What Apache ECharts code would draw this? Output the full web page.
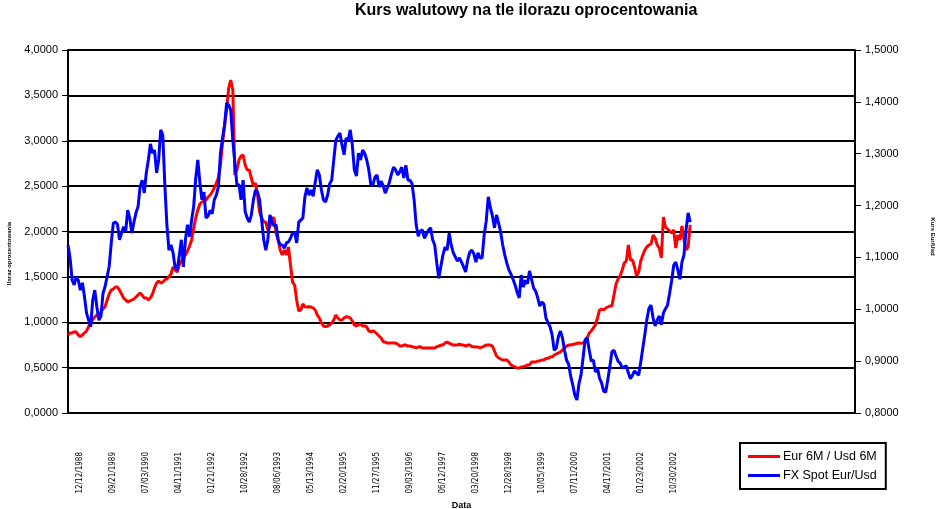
<!DOCTYPE html>
<html>
<head>
<meta charset="utf-8">
<script src="https://cdn.jsdelivr.net/npm/echarts@6/dist/echarts.min.js"></script>
<style>html,body{margin:0;padding:0;background:#fff}#c{width:942px;height:509px}</style>
</head>
<body>
<div id="c"></div>
<script>
// Tick labels shown on the category axis (every 16th slot, starting at slot 6)
const tickLabels = ["12/12/1988","09/21/1989","07/03/1990","04/11/1991","01/21/1992","10/28/1992","08/06/1993","05/13/1994","02/20/1995","11/27/1995","09/03/1996","06/12/1997","03/20/1998","12/28/1998","10/05/1999","07/11/2000","04/17/2001","01/23/2002","10/30/2002"];
const slotCount = 383;      // category slots across the axis
const firstLabelSlot = 6;
const labelEvery = 16;

// Eur 6M / Usd 6M interest ratio (left axis)
const ratioValues = [
0.859,0.882,0.882,0.896,0.893,0.859,0.841,0.859,0.882,0.904,0.951,1.003,1.025,1.058,1.080,1.091,1.113,1.146,1.171,1.245,
1.311,1.355,1.366,1.388,1.388,1.355,1.311,1.267,1.245,1.226,1.234,1.245,1.256,1.278,1.300,1.322,1.300,1.267,1.267,1.245,
1.267,1.311,1.377,1.432,1.455,1.432,1.443,1.466,1.477,1.499,1.532,1.609,1.576,1.554,1.631,1.675,1.708,1.741,1.785,1.840,
1.906,2.039,2.149,2.237,2.303,2.325,2.336,2.347,2.380,2.402,2.435,2.479,2.534,2.589,2.733,2.975,3.174,3.339,3.581,3.669,
3.559,2.623,2.678,2.788,2.832,2.843,2.733,2.678,2.678,2.589,2.501,2.534,2.402,2.215,2.149,2.105,2.105,2.017,2.050,2.149,
2.149,1.983,1.906,1.796,1.741,1.796,1.741,1.829,1.631,1.443,1.410,1.245,1.124,1.135,1.201,1.171,1.168,1.171,1.168,1.157,
1.135,1.080,1.047,0.992,0.959,0.951,0.959,0.970,0.992,1.025,1.080,1.047,1.025,1.025,1.047,1.061,1.058,1.047,1.014,0.970,
0.959,0.970,0.981,0.959,0.959,0.948,0.904,0.893,0.904,0.893,0.871,0.848,0.826,0.786,0.782,0.771,0.771,0.771,0.771,0.771,
0.760,0.738,0.738,0.749,0.749,0.738,0.738,0.731,0.727,0.716,0.727,0.731,0.716,0.716,0.716,0.716,0.716,0.716,0.716,0.731,
0.738,0.749,0.749,0.771,0.782,0.771,0.760,0.749,0.749,0.749,0.760,0.749,0.749,0.738,0.749,0.749,0.731,0.731,0.727,0.727,
0.716,0.727,0.738,0.749,0.749,0.749,0.738,0.683,0.628,0.606,0.595,0.584,0.584,0.584,0.562,0.529,0.518,0.507,0.496,0.496,
0.507,0.510,0.518,0.529,0.529,0.562,0.562,0.562,0.573,0.573,0.584,0.584,0.601,0.603,0.617,0.617,0.639,0.650,0.661,0.672,
0.694,0.716,0.738,0.749,0.749,0.755,0.760,0.768,0.771,0.768,0.771,0.793,0.826,0.882,0.904,0.937,0.970,1.047,1.135,1.146,
1.135,1.157,1.168,1.179,1.179,1.300,1.421,1.477,1.510,1.576,1.653,1.675,1.851,1.686,1.686,1.609,1.510,1.554,1.675,1.741,
1.796,1.832,1.851,1.862,1.961,1.928,1.851,1.818,1.708,2.160,2.050,2.028,2.005,1.983,2.017,1.818,1.961,1.906,2.061,1.906,
1.796,1.829,2.072
];

// FX Spot Eur/Usd (right axis)
const fxValues = [
1.124,1.099,1.056,1.047,1.063,1.056,1.037,1.051,1.024,0.993,0.979,0.966,1.018,1.037,1.005,0.979,0.987,1.031,1.044,1.063,
1.083,1.128,1.166,1.168,1.164,1.134,1.147,1.159,1.151,1.191,1.176,1.147,1.168,1.186,1.198,1.236,1.249,1.224,1.263,1.288,
1.319,1.301,1.307,1.263,1.288,1.346,1.336,1.240,1.163,1.114,1.124,1.109,1.080,1.076,1.103,1.134,1.082,1.134,1.163,1.140,
1.172,1.198,1.253,1.288,1.245,1.211,1.226,1.176,1.180,1.191,1.184,1.211,1.220,1.236,1.301,1.330,1.355,1.398,1.394,1.384,
1.326,1.282,1.240,1.240,1.211,1.249,1.188,1.176,1.168,1.182,1.211,1.230,1.226,1.211,1.172,1.134,1.114,1.134,1.182,1.168,
1.161,1.163,1.134,1.124,1.124,1.118,1.128,1.130,1.137,1.147,1.149,1.128,1.168,1.172,1.176,1.217,1.234,1.220,1.230,1.218,
1.245,1.269,1.259,1.230,1.211,1.207,1.220,1.242,1.249,1.288,1.326,1.334,1.340,1.317,1.298,1.330,1.326,1.346,1.317,1.269,
1.257,1.301,1.288,1.307,1.301,1.288,1.269,1.240,1.240,1.255,1.259,1.236,1.247,1.238,1.224,1.234,1.245,1.261,1.274,1.269,
1.259,1.265,1.274,1.253,1.278,1.249,1.249,1.242,1.211,1.163,1.141,1.151,1.153,1.137,1.145,1.153,1.157,1.134,1.124,1.089,
1.060,1.083,1.105,1.120,1.114,1.147,1.124,1.109,1.101,1.093,1.099,1.091,1.082,1.072,1.095,1.110,1.114,1.107,1.091,1.109,
1.099,1.099,1.143,1.170,1.217,1.197,1.180,1.157,1.182,1.166,1.149,1.124,1.105,1.089,1.076,1.068,1.058,1.047,1.033,1.022,
1.066,1.043,1.056,1.049,1.074,1.058,1.041,1.035,1.022,1.006,1.014,1.010,0.983,0.974,0.966,0.950,0.921,0.925,0.947,0.958,
0.945,0.921,0.902,0.894,0.871,0.854,0.835,0.825,0.856,0.873,0.906,0.941,0.945,0.921,0.900,0.902,0.879,0.887,0.867,0.858,
0.842,0.840,0.864,0.889,0.918,0.921,0.910,0.900,0.896,0.887,0.889,0.891,0.877,0.866,0.873,0.881,0.877,0.873,0.898,0.925,
0.952,0.981,1.002,1.008,0.983,0.968,0.979,0.987,0.970,0.993,1.001,1.008,1.031,1.055,1.085,1.091,1.076,1.058,1.091,1.105,
1.153,1.186,1.168
];

const leftTicks = {min: 0, max: 4, interval: 0.5};
const rightTicks = {min: 0.8, max: 1.5, interval: 0.1};

const categories = Array.from({length: slotCount}, (_, i) => {
  const k = (i - firstLabelSlot) / labelEvery;
  return (Number.isInteger(k) && k >= 0 && k < tickLabels.length) ? tickLabels[k] : '';
});

const fmt = v => v.toFixed(4).replace('.', ',');

const chart = echarts.init(document.getElementById('c'), null, {renderer: 'canvas'});
chart.setOption({
  animation: false,
  backgroundColor: '#ffffff',
  textStyle: {fontFamily: 'Liberation Sans, Arial, sans-serif'},
  title: {
    text: 'Kurs walutowy na tle ilorazu oprocentowania',
    left: 350, top: -2,
    textStyle: {fontSize: 16, fontWeight: 'bold', color: '#000', fontFamily: 'Liberation Sans, Arial, sans-serif'}
  },
  legend: {
    orient: 'vertical',
    left: 740, top: 443,
    padding: [7, 9, 7, 8],
    itemGap: 6,
    itemWidth: 32, itemHeight: 3,
    icon: 'rect',
    borderColor: '#000', borderWidth: 2, borderRadius: 0,
    textStyle: {fontSize: 12.5, color: '#000', padding: [0, 0, 0, -2]},
    data: ['Eur 6M / Usd 6M', 'FX Spot Eur/Usd']
  },
  grid: {left: 68, right: 87, top: 50, bottom: 96, containLabel: false, outerBoundsMode: 'none'},
  xAxis: {
    type: 'category',
    data: categories,
    boundaryGap: false,
    name: 'Data',
    nameLocation: 'middle',
    nameGap: 87,
    nameTextStyle: {fontSize: 9, fontWeight: 'bold', color: '#000'},
    axisLine: {show: true, lineStyle: {color: '#000', width: 2}},
    axisTick: {show: false},
    axisLabel: {
      interval: 0,
      rotate: 90,
      margin: 39,
      fontSize: 8,
      color: '#000',
      fontFamily: 'Liberation Sans Narrow, DejaVu Sans Condensed, Liberation Sans, sans-serif'
    },
    splitLine: {show: false}
  },
  yAxis: [
    {
      type: 'value',
      min: leftTicks.min, max: leftTicks.max, interval: leftTicks.interval,
      name: 'Iloraz oprocentowania',
      nameLocation: 'middle', nameRotate: 90, nameGap: 56,
      nameTextStyle: {fontSize: 6, fontWeight: 'bold', color: '#000', padding: [0, 44, 0, 0]},
      axisLine: {show: true, lineStyle: {color: '#000', width: 2}},
      axisTick: {show: true, length: 6, lineStyle: {color: '#000', width: 1}},
      axisLabel: {formatter: fmt, fontSize: 11, color: '#000', margin: 10},
      splitLine: {show: true, lineStyle: {color: '#000', width: 2}}
    },
    {
      type: 'value',
      min: rightTicks.min, max: rightTicks.max, interval: rightTicks.interval,
      name: 'Kurs Eur/Usd',
      nameLocation: 'middle', nameRotate: -90, nameGap: 75,
      nameTextStyle: {fontSize: 6, fontWeight: 'bold', color: '#000', padding: [0, 0, 0, 10]},
      axisLine: {show: true, lineStyle: {color: '#000', width: 2}},
      axisTick: {show: true, length: 6, lineStyle: {color: '#000', width: 1}},
      axisLabel: {formatter: fmt, fontSize: 11, color: '#000', margin: 10},
      splitLine: {show: false}
    }
  ],
  series: [
    {
      name: 'Eur 6M / Usd 6M', type: 'line', yAxisIndex: 0,
      data: ratioValues, showSymbol: false, symbol: 'none',
      lineStyle: {color: '#ff0000', width: 3}, itemStyle: {color: '#ff0000'}
    },
    {
      name: 'FX Spot Eur/Usd', type: 'line', yAxisIndex: 1,
      data: fxValues, showSymbol: false, symbol: 'none',
      lineStyle: {color: '#0000ff', width: 3}, itemStyle: {color: '#0000ff'}
    }
  ]
});
</script>
</body>
</html>
